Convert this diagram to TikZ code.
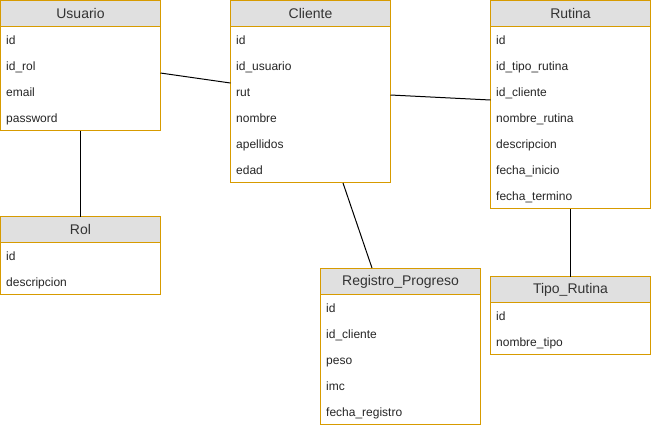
\documentclass[tikz,border=0pt]{standalone}
\usepackage{fontspec}
\setmainfont{Liberation Sans}
\definecolor{bord}{HTML}{D79B00}
\definecolor{headfill}{HTML}{E0E0E0}
\definecolor{txt}{HTML}{333333}
\begin{document}
\begin{tikzpicture}[x=1bp,y=-1bp,
  hdr/.style={draw=bord,fill=headfill,line width=1bp,minimum width=160bp,minimum height=26bp,inner sep=0pt,outer sep=0pt,anchor=north west,font=\fontsize{14bp}{16bp}\selectfont,text=txt},
  bodybox/.style={draw=bord,fill=white,line width=1bp,minimum width=160bp,inner sep=0pt,outer sep=0pt,anchor=north west},
  rowtxt/.style={anchor=base west,inner sep=0pt,font=\fontsize{12bp}{14bp}\selectfont,text=black!85},
  link/.style={draw=black,line width=1bp}]
\useasboundingbox (0,0) rectangle (651,428);
% Usuario
\node[bodybox,minimum height=104bp] (usuarioB) at (0.5,26.5) {};
\node[hdr] (usuario) at (0.5,0.5) {Usuario};
\foreach \t [count=\i] in {id,id\_rol,email,password}
  \node[rowtxt] (usuario-\i) at (6,{27+26*(\i-1)+17}) {\t};
% Cliente
\node[bodybox,minimum height=156bp] (clienteB) at (230.5,26.5) {};
\node[hdr] (cliente) at (230.5,0.5) {Cliente};
\foreach \t [count=\i] in {id,id\_usuario,rut,nombre,apellidos,edad}
  \node[rowtxt] (cliente-\i) at (236,{27+26*(\i-1)+17}) {\t};
% Rutina
\node[bodybox,minimum height=182bp] (rutinaB) at (490.5,26.5) {};
\node[hdr] (rutina) at (490.5,0.5) {Rutina};
\foreach \t [count=\i] in {id,id\_tipo\_rutina,id\_cliente,nombre\_rutina,descripcion,fecha\_inicio,fecha\_termino}
  \node[rowtxt] (rutina-\i) at (496,{27+26*(\i-1)+17}) {\t};
% Rol
\node[bodybox,minimum height=52bp] (rolB) at (0.5,242.5) {};
\node[hdr] (rol) at (0.5,216.5) {Rol};
\foreach \t [count=\i] in {id,descripcion}
  \node[rowtxt] (rol-\i) at (6,{243+26*(\i-1)+17}) {\t};
% Registro_Progreso
\node[bodybox,minimum height=130bp] (registroB) at (320.5,294.5) {};
\node[hdr] (registro) at (320.5,268.5) {Registro\_Progreso};
\foreach \t [count=\i] in {id,id\_cliente,peso,imc,fecha\_registro}
  \node[rowtxt] (registro-\i) at (326,{295+26*(\i-1)+17}) {\t};
% Tipo_Rutina
\node[bodybox,minimum height=52bp] (tipoB) at (490.5,302.5) {};
\node[hdr] (tipo) at (490.5,276.5) {Tipo\_Rutina};
\foreach \t [count=\i] in {id,nombre\_tipo}
  \node[rowtxt] (tipo-\i) at (496,{303+26*(\i-1)+17}) {\t};
% connection points
\coordinate (uc1) at (usuarioB.east |- 0,73);
\coordinate (uc2) at (clienteB.west |- 0,83);
\coordinate (cr1) at (clienteB.east |- 0,95);
\coordinate (cr2) at (rutinaB.west |- 0,100);
\coordinate (cg1) at (343,183);
\coordinate (cg2) at (372,268);
% connectors
\draw[link] (uc1) -- (uc2);
\draw[link] (cr1) -- (cr2);
\draw[link] (usuarioB.south) -- (rol.north);
\draw[link] (cg1) -- (cg2);
\draw[link] (rutinaB.south) -- (tipo.north);
\end{tikzpicture}
\end{document}
